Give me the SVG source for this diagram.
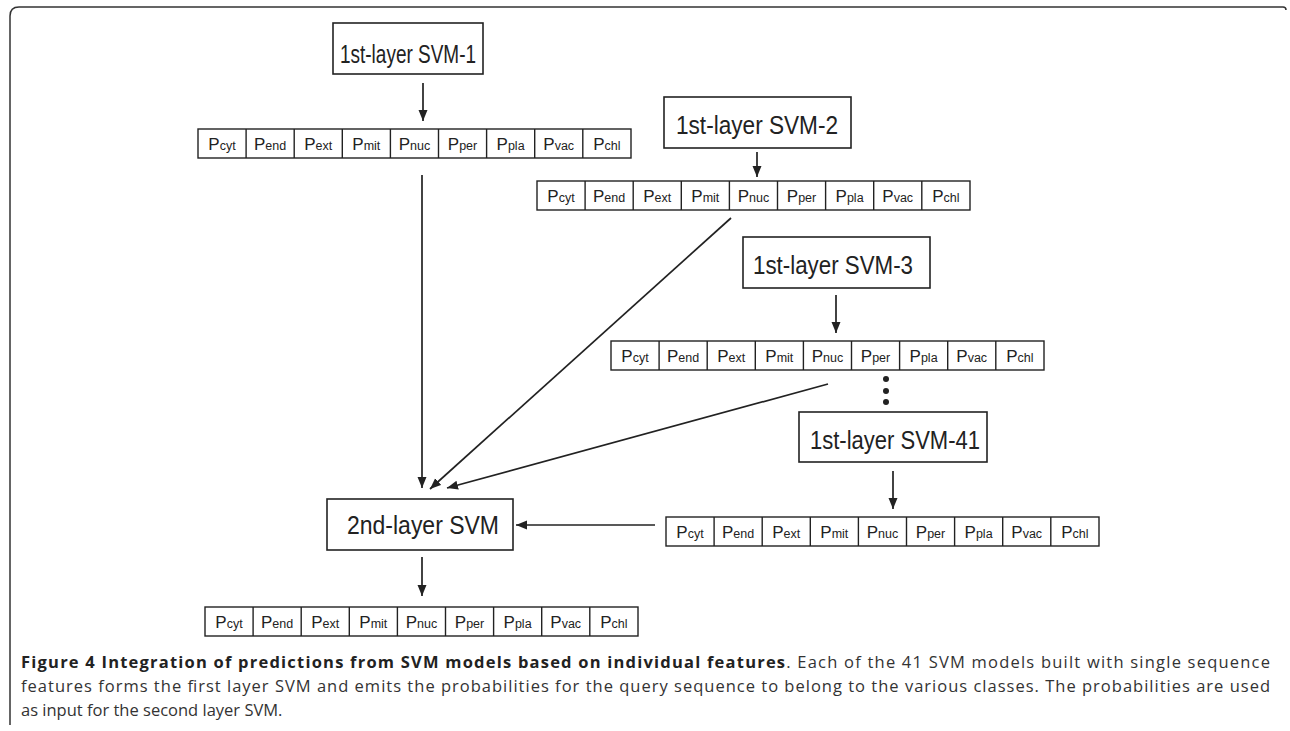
<svg xmlns="http://www.w3.org/2000/svg" xmlns:xlink="http://www.w3.org/1999/xlink" width="1290" height="731" viewBox="0 0 1290 731">
<style>
.frame{fill:none;stroke:#333;stroke-width:1.5}
.box{fill:#fff;stroke:#222;stroke-width:1.6}
.cell{fill:#fff;stroke:#222;stroke-width:1.4}
.div{stroke:#222;stroke-width:1.4}
.btxt{font-family:"Liberation Sans",Arial,sans-serif;font-size:25px;fill:#222;text-anchor:middle}
.ptxt{font-family:"Liberation Sans",Arial,sans-serif;font-size:17px;fill:#222;text-anchor:middle}
.sub{font-size:12.5px}
.conn{stroke:#222;stroke-width:1.7;fill:none;marker-end:url(#arr)}
.cap{font-family:"Open Sans","Liberation Sans",sans-serif;font-size:16.5px;fill:#333}
.capb{font-weight:bold;fill:#222}
.dot{fill:#222}
</style>
<defs>
<marker id="arr" markerUnits="userSpaceOnUse" markerWidth="12" markerHeight="10" refX="11" refY="4.5" orient="auto">
<path d="M0,0 L11,4.5 L0,9 z" fill="#222"/>
</marker>
<g id="probrow">
<rect class="cell" x="0" y="0" width="433" height="29"/>
<line class="div" x1="48.1" y1="0" x2="48.1" y2="29"/>
<line class="div" x1="96.2" y1="0" x2="96.2" y2="29"/>
<line class="div" x1="144.3" y1="0" x2="144.3" y2="29"/>
<line class="div" x1="192.4" y1="0" x2="192.4" y2="29"/>
<line class="div" x1="240.5" y1="0" x2="240.5" y2="29"/>
<line class="div" x1="288.6" y1="0" x2="288.6" y2="29"/>
<line class="div" x1="336.7" y1="0" x2="336.7" y2="29"/>
<line class="div" x1="384.8" y1="0" x2="384.8" y2="29"/>
<text class="ptxt" x="24" y="21">P<tspan class="sub">cyt</tspan></text>
<text class="ptxt" x="72.1" y="21">P<tspan class="sub">end</tspan></text>
<text class="ptxt" x="120.2" y="21">P<tspan class="sub">ext</tspan></text>
<text class="ptxt" x="168.3" y="21">P<tspan class="sub">mit</tspan></text>
<text class="ptxt" x="216.4" y="21">P<tspan class="sub">nuc</tspan></text>
<text class="ptxt" x="264.5" y="21">P<tspan class="sub">per</tspan></text>
<text class="ptxt" x="312.6" y="21">P<tspan class="sub">pla</tspan></text>
<text class="ptxt" x="360.7" y="21">P<tspan class="sub">vac</tspan></text>
<text class="ptxt" x="408.8" y="21">P<tspan class="sub">chl</tspan></text>
</g>
</defs>
<rect width="1290" height="731" fill="#fff"/>
<path class="frame" d="M10,725 L10,16 Q10,7 19,7 L1283,7 Q1286,7 1286,10"/>

<g id="svm1">
<rect class="box" x="333" y="23" width="150" height="51"/>
<text class="btxt" x="408" y="63" textLength="136" lengthAdjust="spacingAndGlyphs">1st-layer SVM-1</text>
</g>
<g id="row1"><use xlink:href="#probrow" x="198" y="129"/></g>

<g id="svm2">
<rect class="box" x="664" y="97" width="187" height="51"/>
<text class="btxt" x="757" y="134" textLength="162" lengthAdjust="spacingAndGlyphs">1st-layer SVM-2</text>
</g>
<g id="row2"><use xlink:href="#probrow" x="537" y="181"/></g>

<g id="svm3">
<rect class="box" x="743" y="237" width="187" height="51"/>
<text class="btxt" x="833" y="274" textLength="160" lengthAdjust="spacingAndGlyphs">1st-layer SVM-3</text>
</g>
<g id="row3"><use xlink:href="#probrow" x="611" y="341"/></g>

<g id="ellipsis">
<circle class="dot" cx="886" cy="379" r="3"/>
<circle class="dot" cx="886" cy="391" r="3"/>
<circle class="dot" cx="886" cy="402" r="3"/>
</g>

<g id="svm41">
<rect class="box" x="799" y="412" width="188" height="50"/>
<text class="btxt" x="895" y="449" textLength="170" lengthAdjust="spacingAndGlyphs">1st-layer SVM-41</text>
</g>
<g id="row4"><use xlink:href="#probrow" x="666" y="517"/></g>

<g id="svm2nd">
<rect class="box" x="327" y="499" width="186" height="51"/>
<text class="btxt" x="423" y="534" textLength="152" lengthAdjust="spacingAndGlyphs">2nd-layer SVM</text>
</g>
<g id="row5"><use xlink:href="#probrow" x="205" y="607"/></g>

<g id="connectors">
<line class="conn" x1="423" y1="83" x2="423" y2="121"/>
<line class="conn" x1="757" y1="152" x2="757" y2="177"/>
<line class="conn" x1="836" y1="295" x2="836" y2="333"/>
<line class="conn" x1="893" y1="471" x2="893" y2="509"/>
<line class="conn" x1="422" y1="557" x2="422" y2="596"/>
<line class="conn" x1="422" y1="175" x2="422" y2="488"/>
<line class="conn" x1="731" y1="218" x2="430" y2="489"/>
<line class="conn" x1="828" y1="384" x2="447" y2="488"/>
<line class="conn" x1="655" y1="525" x2="516" y2="525"/>
</g>

<g id="caption">
<text class="cap" x="21" y="668" textLength="1249" lengthAdjust="spacing"><tspan class="capb">Figure 4 Integration of predictions from SVM models based on individual features</tspan>. Each of the 41 SVM models built with single sequence</text>
<text class="cap" x="21" y="692" textLength="1249" lengthAdjust="spacing">features forms the first layer SVM and emits the probabilities for the query sequence to belong to the various classes. The probabilities are used</text>
<text class="cap" x="21" y="716">as input for the second layer SVM.</text>
</g>
</svg>
